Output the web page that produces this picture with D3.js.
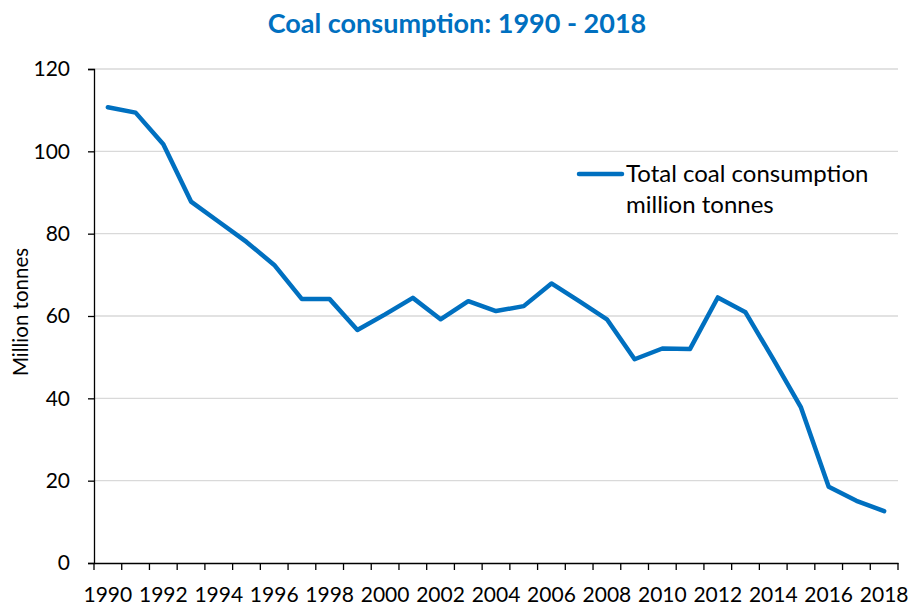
<!DOCTYPE html>
<html><head><meta charset="utf-8">
<script src="https://cdn.jsdelivr.net/npm/d3@7"></script>
<style>body{margin:0;background:#fff}svg{display:block}text{font-family:Lato,"Open Sans",sans-serif}</style>
</head><body><svg id="c" width="912" height="605"></svg>
<script>
const years = [1990,1991,1992,1993,1994,1995,1996,1997,1998,1999,2000,2001,2002,2003,2004,2005,2006,2007,2008,2009,2010,2011,2012,2013,2014,2015,2016,2017,2018];
const coal = [110.7,109.4,101.7,87.8,82.9,78.0,72.4,64.1,64.1,56.6,60.4,64.4,59.2,63.6,61.2,62.4,67.9,63.6,59.2,49.5,52.1,52.0,64.5,60.9,49.5,37.8,18.5,15.1,12.6];
const yTicks = [0,20,40,60,80,100,120];
const xTickLabels = years.filter(y => y % 2 === 0);
const titleText = "Coal consumption: 1990 - 2018";
const yAxisTitle = "Million tonnes";
const legendLines = ["Total coal consumption", "million tonnes"];

const svg = d3.select("#c");
const L = 94, R = 898, T = 69, B = 563;
const blue = "#0070C0";

const x = d3.scaleBand().domain(years).range([L, R]);
const y = d3.scaleLinear().domain([0,120]).range([B, T]);

// gridlines
svg.append("g").selectAll("line").data(yTicks.filter(d=>d>0)).join("line")
  .attr("x1", L).attr("x2", R).attr("y1", d=>y(d)).attr("y2", d=>y(d))
  .attr("stroke", "#d9d9d9").attr("stroke-width", 1.3);

// y axis
const ya = svg.append("g").attr("transform", `translate(${L},0)`)
  .call(d3.axisLeft(y).tickValues(yTicks).tickSize(6).tickPadding(18));
ya.select(".domain").attr("stroke","#000").attr("stroke-width",1.3);
ya.selectAll(".tick line").attr("stroke","#000").attr("stroke-width",1.3);
ya.selectAll("text").attr("font-size", 21).attr("fill","#000").attr("font-family","Lato");

// x axis
const xa = svg.append("g").attr("transform", `translate(0,${B})`)
  .call(d3.axisBottom(x).tickValues(xTickLabels).tickSize(0).tickPadding(24));
xa.select(".domain").attr("stroke","#000").attr("stroke-width",1.3);
xa.selectAll("text").attr("font-size", 21).attr("fill","#000").attr("font-family","Lato");
// tick marks at band boundaries
const bounds = years.map(d => x(d)).concat([R]);
svg.append("g").selectAll("line").data(bounds).join("line")
  .attr("x1", d=>d).attr("x2", d=>d).attr("y1", B).attr("y2", B+7)
  .attr("stroke","#000").attr("stroke-width",1.3);

// line
const line = d3.line().x((d,i)=>x(years[i]) + x.bandwidth()/2).y(d=>y(d));
svg.append("path").datum(coal).attr("d", line)
  .attr("fill","none").attr("stroke", blue).attr("stroke-width", 4.5)
  .attr("stroke-linejoin","round").attr("stroke-linecap","round");

// title
svg.append("text").attr("x", 457).attr("y", 33).attr("text-anchor","middle")
  .attr("font-size", 27).attr("font-weight","bold").attr("fill", blue).text(titleText);

// y axis title
svg.append("text").attr("transform", `translate(27.5,${(T+B)/2 - 4}) rotate(-90)`)
  .attr("text-anchor","middle").attr("font-size", 20.5).attr("fill","#000").text(yAxisTitle);

// legend
svg.append("line").attr("x1", 579).attr("x2", 622).attr("y1", 174).attr("y2", 174)
  .attr("stroke", blue).attr("stroke-width", 4.5).attr("stroke-linecap","round");
svg.append("text").attr("font-size", 24).attr("fill","#000")
  .selectAll("tspan").data(legendLines).join("tspan")
  .attr("x", 626).attr("y", (d,i)=>182 + i*31).text(d=>d);
</script></body></html>
